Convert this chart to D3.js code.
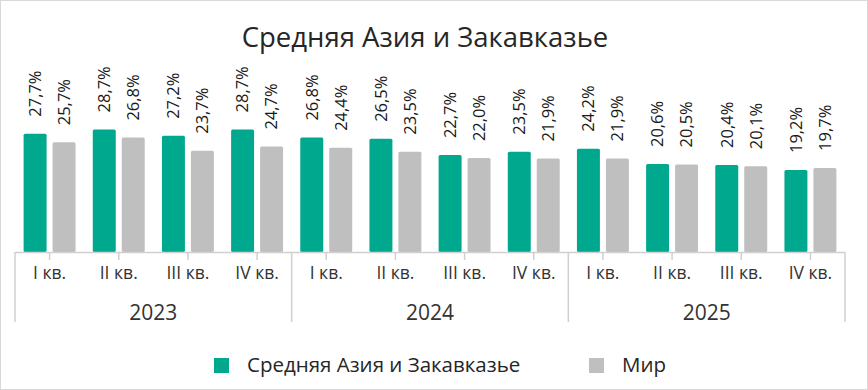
<!DOCTYPE html>
<html>
<head>
<meta charset="utf-8">
<script src="https://cdn.jsdelivr.net/npm/d3@7"></script>
<style>
  html, body { margin: 0; padding: 0; background: #fff; }
  svg { display: block; font-family: "Open Sans", Roboto, sans-serif; }
</style>
</head>
<body>
<svg id="chart" width="868" height="390"></svg>
<script>
// chart data
const years = ["2023", "2024", "2025"];
const quarters = ["I кв.", "II кв.", "III кв.", "IV кв."];
const seriesNames = ["Средняя Азия и Закавказье", "Мир"];
const regionValues = [27.7, 28.7, 27.2, 28.7, 26.8, 26.5, 22.7, 23.5, 24.2, 20.6, 20.4, 19.2];
const worldValues  = [25.7, 26.8, 23.7, 24.7, 24.4, 23.5, 22.0, 21.9, 21.9, 20.5, 20.1, 19.7];
const colors = ["#00a88e", "#bfbfbf"];

const svg = d3.select("#chart");
const W = 868, H = 390;

// outer frame
svg.append("rect")
  .attr("x", 0.5).attr("y", 0.5)
  .attr("width", W - 1).attr("height", H - 1)
  .attr("fill", "#fff").attr("stroke", "#d9d9d9");

// title
svg.append("text")
  .attr("x", 425).attr("y", 47)
  .attr("text-anchor", "middle")
  .attr("font-size", 27.5)
  .attr("fill", "#262626")
  .text("Средняя Азия и Закавказье");

const left = 15, right = 845, baseline = 252;

// one entry per bar group
const cats = [];
years.forEach(y => quarters.forEach(q => cats.push({ year: y, q: q, key: y + "|" + q })));
cats.forEach((c, i) => { c.values = [regionValues[i], worldValues[i]]; });

const x = d3.scaleBand().domain(cats.map(c => c.key)).range([left, right]).padding(0);
const xs = d3.scaleBand().domain([0, 1]).range([0, x.bandwidth()])
  .paddingInner(0.207).paddingOuter(0.297);
const y = d3.scaleLinear().domain([0, 35]).range([baseline, baseline - 35 * 4.27]);

const fmt = v => d3.format(".1f")(v).replace(".", ",") + "%";

const groups = svg.append("g").selectAll("g")
  .data(cats).join("g")
  .attr("transform", d => `translate(${x(d.key)},0)`);

groups.selectAll("rect")
  .data(d => d.values.map((v, i) => ({ v, i })))
  .join("rect")
  .attr("x", d => xs(d.i))
  .attr("y", d => y(d.v))
  .attr("width", xs.bandwidth())
  .attr("height", d => baseline - y(d.v))
  .attr("rx", 1.5)
  .attr("fill", d => colors[d.i]);

// rotated value labels
groups.selectAll("text.val")
  .data(d => d.values.map((v, i) => ({ v, i })))
  .join("text")
  .attr("class", "val")
  .attr("transform", d => `translate(${xs(d.i) + xs.bandwidth() / 2 + 5.8},${y(d.v) - 17}) rotate(-90)`)
  .attr("font-size", 16.5)
  .attr("fill", "#1a1a1a")
  .text(d => fmt(d.v));

// axis
const axisColor = "#d0d0d0";
const ax = svg.append("g");
ax.append("line")
  .attr("x1", left).attr("x2", right)
  .attr("y1", baseline + 0.5).attr("y2", baseline + 0.5)
  .attr("stroke", axisColor).attr("stroke-width", 1.5);

// short ticks at category centres
ax.selectAll("line.tick")
  .data(cats).join("line")
  .attr("class", "tick")
  .attr("x1", d => x(d.key) + x.bandwidth() / 2)
  .attr("x2", d => x(d.key) + x.bandwidth() / 2)
  .attr("y1", baseline).attr("y2", baseline + 8)
  .attr("stroke", axisColor).attr("stroke-width", 1.5);

// year separators
const yearEdges = [0, 4, 8, 12].map(i => i < 12 ? x(cats[i].key) : right);
ax.selectAll("line.sep")
  .data(yearEdges).join("line")
  .attr("class", "sep")
  .attr("x1", d => d).attr("x2", d => d)
  .attr("y1", baseline).attr("y2", 322)
  .attr("stroke", axisColor).attr("stroke-width", 1.5);

ax.selectAll("text.q")
  .data(cats).join("text")
  .attr("class", "q")
  .attr("x", d => x(d.key) + x.bandwidth() / 2)
  .attr("y", 279)
  .attr("text-anchor", "middle")
  .attr("font-size", 17.5)
  .attr("fill", "#333")
  .text(d => d.q);

ax.selectAll("text.yr")
  .data(years).join("text")
  .attr("class", "yr")
  .attr("x", (d, i) => (yearEdges[i] + yearEdges[i + 1]) / 2)
  .attr("y", 320)
  .attr("text-anchor", "middle")
  .attr("font-size", 21)
  .attr("fill", "#333")
  .text(d => d);

// legend
const legendX = [214, 589];
const lg = svg.append("g").selectAll("g")
  .data(seriesNames).join("g")
  .attr("transform", (d, i) => `translate(${legendX[i]},358)`);
lg.append("rect")
  .attr("width", 15).attr("height", 15)
  .attr("fill", (d, i) => colors[i]);
lg.append("text")
  .attr("x", 33).attr("y", 14)
  .attr("font-size", 20.5)
  .attr("fill", "#262626")
  .text(d => d);
</script>
</body>
</html>
